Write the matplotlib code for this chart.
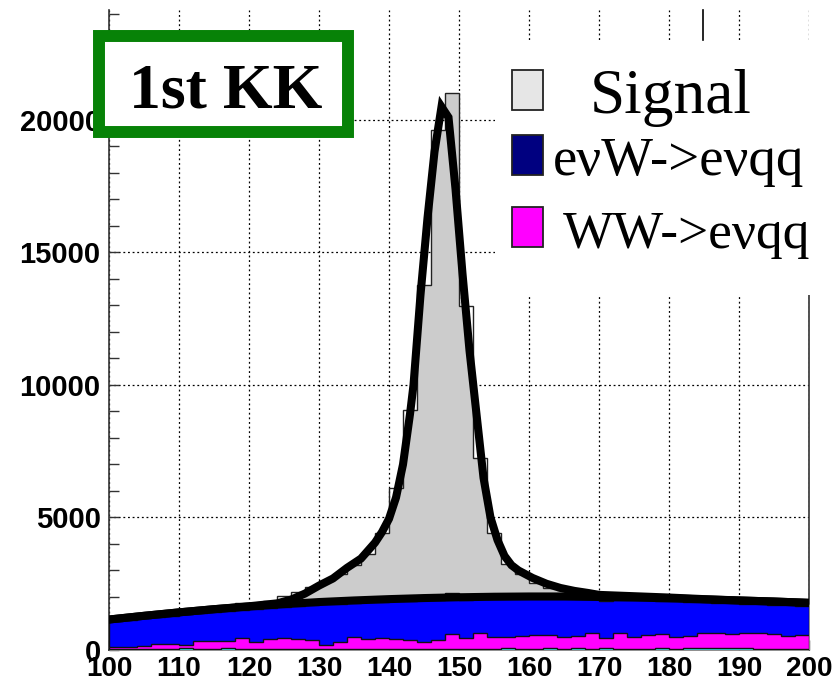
import numpy as np
import matplotlib.pyplot as plt
from matplotlib.patches import Rectangle
from matplotlib.lines import Line2D
from matplotlib.ticker import MultipleLocator

# 2 GeV bins between 100 and 200
edges = np.arange(100, 202, 2)

# stacked histogram tops (cumulative)
top_cyan = [20, 20, 20, 20, 20, 60, 20, 20, 60, 20,
            20, 20, 20, 20, 20, 20, 20, 20, 20, 20,
            20, 20, 20, 20, 20, 20, 20, 20, 60, 20,
            20, 60, 20, 60, 20, 60, 20, 20, 20, 60,
            20, 60, 60, 60, 60, 60, 20, 20, 20, 20]
top_ww = [126, 100, 164, 214, 239, 189, 352, 340, 340, 440,
          315, 403, 440, 403, 365, 201, 315, 503, 415, 440,
          415, 377, 289, 390, 604, 465, 629, 503, 503, 541,
          560, 566, 503, 541, 654, 440, 629, 503, 566, 616,
          503, 541, 654, 629, 604, 654, 629, 591, 541, 566]
top_evw = [1080, 1130, 1190, 1240, 1300, 1340, 1390, 1430, 1470, 1520,
           1560, 1590, 1630, 1660, 1700, 1720, 1750, 1770, 1800, 1820,
           1840, 1850, 1880, 1890, 2150, 1900, 2120, 1910, 1920, 1930,
           1920, 1930, 1920, 1910, 1920, 1850, 1900, 1880, 1870, 1850,
           1840, 1820, 1800, 1780, 1760, 1740, 1720, 1700, 1680, 1660]
top_signal = [1150, 1200, 1260, 1320, 1390, 1440, 1500, 1560, 1640, 1780,
              1760, 1850, 2050, 2200, 2390, 2600, 2880, 3200, 3620, 4420,
              6110, 9060, 13780, 19620, 21030, 12980, 7240, 4430, 3260, 2860,
              2510, 2340, 2250, 2180, 2140, 2120, 2080, 2060, 2040, 2010,
              1990, 1970, 1950, 1920, 1900, 1870, 1840, 1810, 1770, 1730]

# fitted curves: signal + background, and background only
fit_x = [100, 105, 110, 115, 120, 124, 126, 128, 130, 132, 134, 136, 138,
         139, 140, 141, 142, 143, 143.5, 144.5, 145.5, 146.5, 147.5, 148.5,
         149.5, 150.5, 151.5, 152.5, 153.5, 154.5, 155.5, 156.5, 157.5,
         158.5, 160.5, 162.5, 164.5, 166.5, 168.5, 170, 175, 180, 185,
         190, 195, 200]
fit_y = [1150, 1290, 1420, 1540, 1650, 1760, 1900, 2130, 2430, 2700, 3100,
         3450, 4050, 4450, 4950, 5750, 7000, 8900, 10000, 13400, 16300,
         18800, 20500, 20100, 17400, 14200, 11300, 8900, 6500, 5000, 4150,
         3550, 3200, 3000, 2720, 2500, 2340, 2230, 2150, 2080, 2030, 1980,
         1920, 1870, 1830, 1780]
bkg_x = [100, 105, 110, 115, 120, 125, 130, 135, 140, 145, 150, 155, 160,
         165, 170, 175, 180, 185, 190, 195, 200]
bkg_y = [1150, 1290, 1420, 1540, 1640, 1730, 1810, 1870, 1920, 1960, 1990,
         2010, 2020, 2020, 2000, 1980, 1950, 1910, 1870, 1830, 1780]

xticks = list(range(100, 201, 10))
yticks = [0, 5000, 10000, 15000, 20000]
legend_labels = ["Signal", "eνW->eνqq", "WW->eνqq"]
legend_colors = ["#e6e6e6", "#000080", "#ff00ff"]
tag_text = "1st KK"

W, H = 838, 686
fig = plt.figure(figsize=(W / 100, H / 100), dpi=100)
ax = fig.add_axes([109 / W, 36 / H, 700 / W, 640 / H])

# gray signal area: under the fit curve, the peak bin to full height
xf = np.linspace(100, 200, 4001)
ib = np.minimum(((xf - 100) // 2).astype(int), len(top_signal) - 1)
step_f = np.array(top_signal)[ib]
fill_f = np.minimum(step_f, np.interp(xf, fit_x, fit_y))
pk = int(np.argmax(top_signal))
fill_f[ib == pk] = step_f[ib == pk]
ax.fill_between(xf, 0, fill_f, color="#cccccc", lw=0, zorder=2)
ax.stairs(top_signal, edges, color="#222222", lw=1.0, zorder=2.1)

# backgrounds, lower layers drawn on top
layers = [(top_evw, "#0000ff", 3), (top_ww, "#ff00ff", 4),
          (top_cyan, "#33dddd", 5)]
for vals, col, z in layers:
    ax.stairs(vals, edges, fill=True, color=col, lw=0, zorder=z)
    ax.stairs(vals, edges, color="#111111", lw=1.0, zorder=z + 0.1)

# fits
ax.plot(bkg_x, bkg_y, color="black", lw=5.8, zorder=7,
        solid_joinstyle="miter")
ax.plot(fit_x, fit_y, color="black", lw=5.8, zorder=8,
        solid_joinstyle="miter")

ax.set_xlim(100, 200)
ax.set_ylim(0, 24150)
ax.set_xticks(xticks)
ax.set_yticks(yticks)
ax.yaxis.set_minor_locator(MultipleLocator(1000))
ax.set_axisbelow(True)
ax.grid(True, which="major", color="black", lw=0.9,
        linestyle=(0, (1.5, 2.2)))
ax.tick_params(axis="both", which="both", direction="in", length=7.2,
               width=1.0, color="#333333", top=False, right=False)
ax.tick_params(axis="x", pad=4.5, labelsize=20)
ax.tick_params(axis="y", pad=6, labelsize=21)
for lab in ax.get_xticklabels() + ax.get_yticklabels():
    lab.set_fontfamily("Liberation Sans")
    lab.set_fontweight("bold")
ax.spines["top"].set_visible(False)
for s in ["left", "right", "bottom"]:
    ax.spines[s].set_color("#333333")
    ax.spines[s].set_linewidth(1.2)
    ax.spines[s].set_zorder(0.6)
# right frame only shows below the legend
ax.spines["right"].set_bounds(0, 13400)


def fx(px):
    return px / W


def fy(py):
    return 1 - py / H


# legend (white box running off the right edge)
fig.add_artist(Rectangle((fx(495), fy(295)), fx(343), 255 / H,
                         transform=fig.transFigure, facecolor="white",
                         edgecolor="none", zorder=5))
fig.add_artist(Line2D([fx(703), fx(703)], [fy(10), fy(40)],
                      transform=fig.transFigure, color="black", lw=1.2,
                      zorder=6))
box_top = [70, 135, 207]
text_x = [590, 553, 563]
text_base = [113, 175, 248]
text_size = [45.5, 39.5, 38.5]
for lab, col, bt, tx, tb, ts in zip(legend_labels, legend_colors, box_top,
                                    text_x, text_base, text_size):
    fig.add_artist(Rectangle((fx(512), fy(bt + 40)), 31 / W, 40 / H,
                             transform=fig.transFigure, facecolor=col,
                             edgecolor="#222222", lw=1.3, zorder=6))
    fig.text(fx(tx), fy(tb), lab, ha="left", va="baseline", fontsize=ts,
             family=["Liberation Serif", "DejaVu Serif"], zorder=6)

# green tag box
fig.add_artist(Rectangle((fx(99), fy(132)), fx(249), 96 / H,
                         transform=fig.transFigure, facecolor="white",
                         edgecolor="#078207", lw=8.6, zorder=6))
fig.text(fx(226), fy(108), tag_text, ha="center", va="baseline",
         fontsize=46, fontweight="bold", family="Liberation Serif", zorder=7)

fig.savefig("out.png", dpi=100)
